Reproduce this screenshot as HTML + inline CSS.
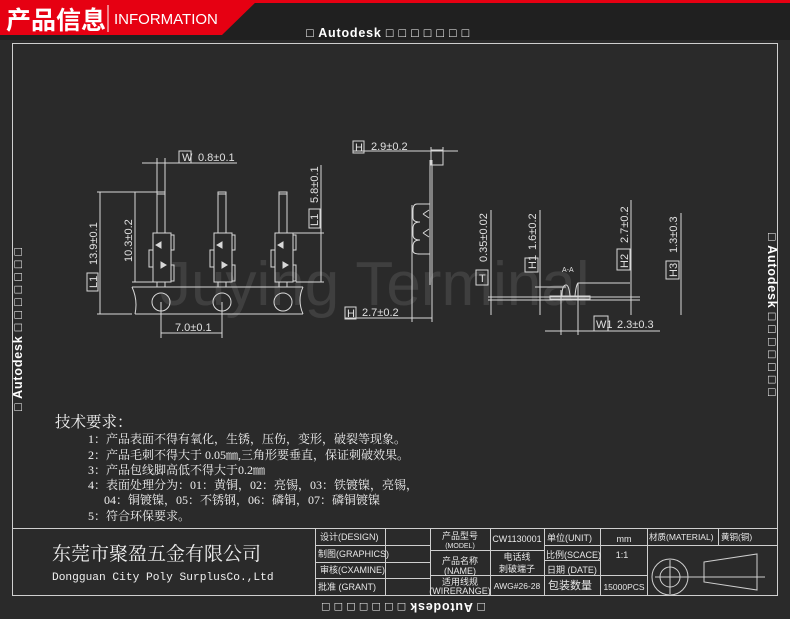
<!DOCTYPE html>
<html><head><meta charset="utf-8"><style>
html,body{margin:0;padding:0;background:#2a2a2a;}
svg{display:block;}
</style></head><body>
<svg width="790" height="619" viewBox="0 0 790 619" xmlns="http://www.w3.org/2000/svg" font-family="'Liberation Sans','Noto Sans CJK SC',sans-serif">
<rect x="0" y="0" width="790" height="619" fill="#2a2a2a"/>
<rect x="0" y="0" width="790" height="40" fill="#202020"/>
<rect x="0" y="0" width="790" height="3" fill="#e60012"/>
<polygon points="0,0 258,0 222,35 0,35" fill="#e60012"/>
<text x="6" y="29" font-size="25" font-weight="bold" fill="#fff" font-family="'Noto Sans CJK SC',sans-serif">产品信息</text>
<line x1="108" y1="5" x2="108" y2="32" stroke="#fff" stroke-width="1"/>
<text x="114" y="24" font-size="15" fill="#fff">INFORMATION</text>
<text x="388" y="37" font-size="12.5" font-weight="bold" fill="#fff" text-anchor="middle" letter-spacing="0.8">□ Autodesk □ □ □ □ □ □ □</text>

<g stroke="#cfcfcf" fill="none" stroke-width="1">
<rect x="12.5" y="43.5" width="765" height="552"/>
<line x1="12" y1="528.5" x2="778" y2="528.5"/>
</g>
<text transform="translate(22,411) rotate(-90)" font-size="12.5" font-weight="bold" fill="#fff" letter-spacing="0.8">□ Autodesk □ □ □ □ □ □ □</text>
<text transform="translate(768,233) rotate(90)" font-size="12.5" font-weight="bold" fill="#fff" letter-spacing="0.8">□ Autodesk □ □ □ □ □ □ □</text>
<text transform="translate(485,603) rotate(180)" font-size="12.5" font-weight="bold" fill="#fff" letter-spacing="0.8">□ Autodesk □ □ □ □ □ □ □</text>

<text x="160" y="305" font-size="62" fill="#fff" fill-opacity="0.1">Juying Terminal</text>

<g stroke="#d8d8d8" fill="none" stroke-width="1">
<path d="M132,287 L303,287 M135,314 L303,314 M132,287 Q138,300 135,314 M303,287 Q297,300 303,314"/>
<circle cx="161" cy="302" r="9"/><circle cx="222" cy="302" r="9"/><circle cx="283" cy="302" r="9"/>
<g id="p1">
<rect x="157" y="192" width="8" height="41"/>
<line x1="157" y1="194" x2="165" y2="194"/>
<rect x="153" y="233" width="18" height="49"/>
<path d="M171,235 H174 V250 H171 M171,265 H174 V281 H171 M153,250 H149 V267 H153"/>
<line x1="157" y1="282" x2="157" y2="287"/><line x1="165" y1="282" x2="165" y2="287"/>
<path d="M156,245 L161,242 L161,248 Z M161,262 L166,265 L161,268 Z" fill="#d8d8d8"/>
</g>
<use href="#p1" x="61"/><use href="#p1" x="122"/>
<line x1="161" y1="302" x2="161" y2="338"/><line x1="222" y1="302" x2="222" y2="338"/>
<line x1="161" y1="333" x2="222" y2="333"/>
<line x1="97" y1="192" x2="157" y2="192"/><line x1="97" y1="314" x2="132" y2="314"/>
<line x1="100" y1="192" x2="100" y2="314"/>
<line x1="132" y1="282" x2="153" y2="282"/>
<line x1="135" y1="192" x2="135" y2="282"/>
<line x1="287" y1="233" x2="324" y2="233"/><line x1="296" y1="282" x2="324" y2="282"/>
<line x1="321" y1="165" x2="321" y2="282"/>
<line x1="142" y1="163" x2="237" y2="163"/>
<line x1="157" y1="158" x2="157" y2="192"/><line x1="165" y1="158" x2="165" y2="192"/>
<rect x="179" y="151" width="12" height="12"/>
<rect x="309" y="209" width="11" height="19"/>
<rect x="87" y="273" width="11" height="18"/>
</g>
<g fill="#e0e0e0" font-size="11">
<text x="182" y="161">W</text>
<text x="198" y="161">0.8±0.1</text>
<text x="175" y="331">7.0±0.1</text>
<text transform="translate(97,288) rotate(-90)">L1</text>
<text transform="translate(97,265) rotate(-90)">13.9±0.1</text>
<text transform="translate(132,262) rotate(-90)">10.3±0.2</text>
<text transform="translate(318,226) rotate(-90)">L1</text>
<text transform="translate(318,203) rotate(-90)">5.8±0.1</text>
</g>

<g stroke="#d8d8d8" fill="none" stroke-width="1">
<line x1="353" y1="151" x2="458" y2="151"/>
<line x1="431" y1="147" x2="431" y2="165"/><line x1="443" y1="147" x2="443" y2="165"/>
<rect x="431" y="150" width="12" height="15"/>
<line x1="430" y1="160" x2="430" y2="285"/><line x1="432" y1="160" x2="432" y2="322"/>
<line x1="412" y1="205" x2="412" y2="322"/>
<path d="M430,204 H417 Q413,204 413,210 V218 Q413,222 420,222 Q413,222 413,228 V235 Q413,240 420,240 Q413,240 413,246 V251 Q413,254 420,254 H430"/>
<path d="M423,214 L429,210 M423,214 L429,218 M423,233 L429,229 M423,233 L429,237"/>
<line x1="345" y1="318" x2="432" y2="318"/>
<rect x="353" y="141" width="11" height="12"/>
<rect x="345" y="307" width="11" height="12"/>
</g>
<g fill="#e0e0e0" font-size="11">
<text x="355" y="151">H</text><text x="371" y="150">2.9±0.2</text>
<text x="347" y="317">H</text><text x="362" y="316">2.7±0.2</text>
</g>

<g stroke="#d8d8d8" fill="none" stroke-width="1">
<line x1="488" y1="297" x2="640" y2="297"/><line x1="488" y1="300" x2="640" y2="300"/>
<line x1="491" y1="210" x2="491" y2="315"/>
<line x1="540" y1="210" x2="540" y2="315"/>
<line x1="535" y1="287" x2="566" y2="287"/>
<path d="M550,296 H590 V299 H550 Z"/>
<path d="M562,296 Q562,285 566,285 Q569,285 570,296 M575,296 Q576,285 578,283 H630"/>
<line x1="561" y1="290" x2="561" y2="335"/><line x1="578" y1="283" x2="578" y2="335"/>
<line x1="545" y1="331" x2="660" y2="331"/>
<line x1="631" y1="200" x2="631" y2="315"/>
<line x1="681" y1="213" x2="681" y2="315"/>
<rect x="476" y="270" width="12" height="15"/>
<rect x="525" y="258" width="13" height="14"/>
<rect x="594" y="316" width="14" height="15"/>
<rect x="617" y="249" width="13" height="21"/>
<rect x="666" y="261" width="13" height="18"/>
</g>
<g fill="#e0e0e0" font-size="11">
<text x="479" y="282">T</text>
<text transform="translate(487,262) rotate(-90)">0.35±0.02</text>
<text transform="translate(536,269) rotate(-90)">H1</text>
<text transform="translate(536,250) rotate(-90)">1.6±0.2</text>
<text x="596" y="328">W1</text><text x="617" y="328">2.3±0.3</text>
<text transform="translate(628,268) rotate(-90)">H2</text>
<text transform="translate(628,243) rotate(-90)">2.7±0.2</text>
<text transform="translate(677,277) rotate(-90)">H3</text>
<text transform="translate(677,253) rotate(-90)">1.3±0.3</text>
<text x="562" y="272" font-size="7">A-A</text>
</g>

<g fill="#f0f0f0" font-family="'Liberation Serif','Noto Serif CJK SC',serif">
<text x="55" y="427" font-size="15.5">技术要求：</text>
<g font-size="12">
<text x="88" y="443">1：产品表面不得有氧化，生锈，压伤，变形，破裂等现象。</text>
<text x="88" y="459">2：产品毛刺不得大于 0.05㎜,三角形要垂直，保证刺破效果。</text>
<text x="88" y="474">3：产品包线脚高低不得大于0.2㎜</text>
<text x="88" y="489">4：表面处理分为：01：黄铜，02：亮锡，03：铁镀镍，亮锡，</text>
<text x="104" y="504">04：铜镀镍，05：不锈钢，06：磷铜，07：磷铜镀镍</text>
<text x="88" y="520">5：符合环保要求。</text>
</g>
<text x="52" y="560" font-size="19">东莞市聚盈五金有限公司</text>
<text x="52" y="580" font-size="11.2" font-family="'Liberation Mono',monospace">Dongguan City Poly SurplusCo.,Ltd</text>
</g>

<g stroke="#cfcfcf" fill="none" stroke-width="1">
<line x1="315.5" y1="528" x2="315.5" y2="595"/>
<line x1="385.5" y1="528" x2="385.5" y2="595"/>
<line x1="430.5" y1="528" x2="430.5" y2="595"/>
<line x1="490.5" y1="528" x2="490.5" y2="595"/>
<line x1="544.5" y1="528" x2="544.5" y2="595"/>
<line x1="600.5" y1="528" x2="600.5" y2="595"/>
<line x1="647.5" y1="528" x2="647.5" y2="595"/>
<line x1="718.5" y1="528" x2="718.5" y2="545"/>
<line x1="315" y1="545.5" x2="430" y2="545.5"/>
<line x1="315" y1="562.5" x2="430" y2="562.5"/>
<line x1="315" y1="578.5" x2="430" y2="578.5"/>
<line x1="430" y1="550.5" x2="544" y2="550.5"/>
<line x1="430" y1="575.5" x2="544" y2="575.5"/>
<line x1="544" y1="545.5" x2="778" y2="545.5"/>
<line x1="544" y1="560.5" x2="600" y2="560.5"/>
<line x1="544" y1="575.5" x2="647" y2="575.5"/>
<circle cx="670" cy="577" r="18"/><circle cx="670" cy="577" r="10"/>
<line x1="655" y1="577" x2="765" y2="577"/><line x1="670" y1="560" x2="670" y2="594"/>
<polygon points="704,562 757,554 757,590 704,582"/>
</g>
<g fill="#e8e8e8" font-size="9">
<text x="320" y="540">设计(DESIGN)</text>
<text x="318" y="557">制图(GRAPHICS)</text>
<text x="320" y="573">审核(CXAMINE)</text>
<text x="318" y="590">批准 (GRANT)</text>
<text x="460" y="539" text-anchor="middle">产品型号</text>
<text x="460" y="548" text-anchor="middle" font-size="7">(MODEL)</text>
<text x="460" y="564" text-anchor="middle">产品名称</text>
<text x="460" y="574" text-anchor="middle">(NAME)</text>
<text x="460" y="585" text-anchor="middle">适用线规</text>
<text x="460" y="594" text-anchor="middle">(WIRERANGE)</text>
<text x="517" y="542" text-anchor="middle">CW1130001</text>
<text x="517" y="560" text-anchor="middle">电话线</text>
<text x="517" y="572" text-anchor="middle">刺破端子</text>
<text x="517" y="589" text-anchor="middle" font-size="8.5">AWG#26-28</text>
<text x="547" y="541">单位(UNIT)</text>
<text x="546" y="558">比例(SCACE)</text>
<text x="547" y="573">日期 (DATE)</text>
<text x="548" y="589" font-size="11">包装数量</text>
<text x="624" y="542" text-anchor="middle">mm</text>
<text x="622" y="558" text-anchor="middle">1:1</text>
<text x="624" y="590" text-anchor="middle" font-size="8.5">15000PCS</text>
<text x="649" y="540" font-size="8.5">材质(MATERIAL)</text>
<text x="721" y="540" font-size="8.5">黄铜(铜)</text>
</g>
</svg>
</body></html>
